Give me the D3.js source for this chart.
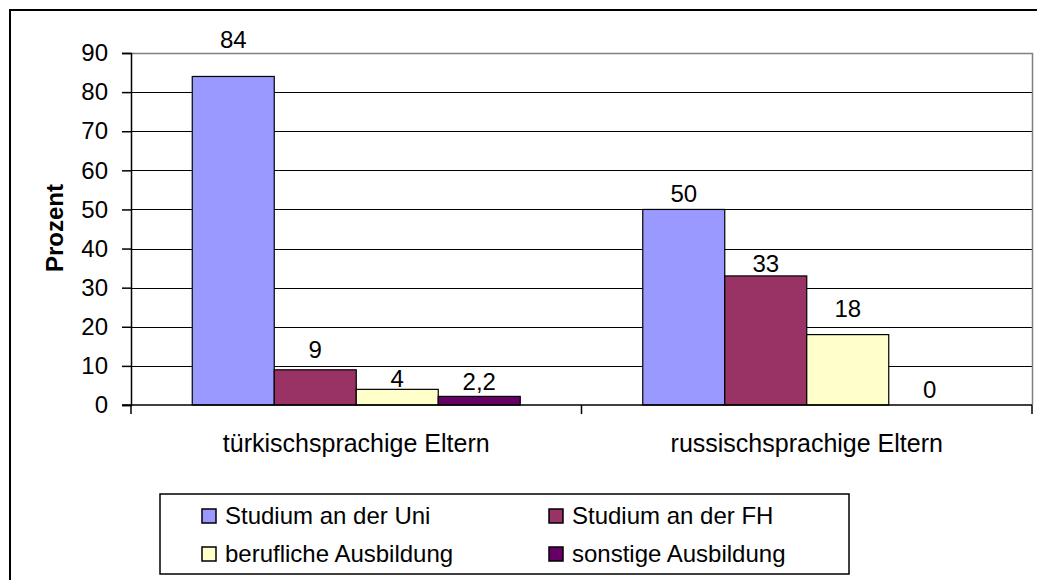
<!DOCTYPE html>
<html>
<head>
<meta charset="utf-8">
<script src="https://cdn.jsdelivr.net/npm/d3@7"></script>
<style>
  body { margin: 0; background: #fff; }
  svg { display: block; font-family: Arial, "Liberation Sans", sans-serif; }
</style>
</head>
<body>
<svg width="1037" height="580"></svg>
<script>
// chart data
var groups = ['türkischsprachige Eltern', 'russischsprachige Eltern'];
var series = ['Studium an der Uni', 'Studium an der FH', 'berufliche Ausbildung', 'sonstige Ausbildung'];
var turkValues = [84, 9, 4, 2.2];
var russValues = [50, 33, 18, 0];
var yTicks = [0, 10, 20, 30, 40, 50, 60, 70, 80, 90];

// looks
var colors = ['#9999FF', '#993366', '#FFFFCC', '#660066'];
var labelLift = [[28, 12, 2, 6], [7, 4, 18, 7]]; // label gap above bars, as in the original

var svg = d3.select('svg');
var plotL = 131, plotR = 1032, plotT = 53, plotB = 405;

// outer frame (runs past the right and bottom edges)
svg.append('rect').attr('x', 10).attr('y', 10).attr('width', 1100).attr('height', 700)
  .attr('fill', 'none').attr('stroke', '#000').attr('stroke-width', 2);

var y = d3.scaleLinear().domain([0, 90]).range([plotB, plotT]);
var x0 = d3.scaleBand().domain(groups).range([plotL, plotR]);
var x1 = d3.scaleBand().domain(series).range([0, x0.bandwidth()]).paddingOuter(0.747);

// gridlines
svg.append('g').selectAll('line').data(yTicks.filter(function (t) { return t > 0 && t < 90; }))
  .join('line')
  .attr('x1', plotL).attr('x2', plotR)
  .attr('y1', function (d) { return Math.round(y(d)) + 0.5; })
  .attr('y2', function (d) { return Math.round(y(d)) + 0.5; })
  .attr('stroke', '#000');

// plot area border top/right (grey)
svg.append('path')
  .attr('d', 'M' + plotL + ',' + (plotT + 0.5) + 'H' + (plotR + 0.5) + 'V' + plotB)
  .attr('fill', 'none').attr('stroke', '#808080').attr('stroke-width', 1.5);

var rows = [turkValues, russValues];
var g = svg.append('g').selectAll('g').data(groups).join('g')
  .attr('transform', function (d) { return 'translate(' + x0(d) + ',0)'; });

g.selectAll('rect').data(function (d, i) {
    return rows[i].map(function (v, j) { return { s: series[j], v: v, c: colors[j] }; });
  })
  .join('rect')
  .attr('x', function (d) { return x1(d.s); })
  .attr('width', x1.bandwidth())
  .attr('y', function (d) { return y(d.v); })
  .attr('height', function (d) { return plotB - y(d.v); })
  .attr('fill', function (d) { return d.c; })
  .attr('stroke', function (d) { return d.v > 0 ? '#000' : 'none'; })
  .attr('stroke-width', 1.2);

g.each(function (d, i) {
  d3.select(this).selectAll('text').data(rows[i]).join('text')
    .attr('x', function (v, j) { return x1(series[j]) + x1.bandwidth() / 2; })
    .attr('y', function (v, j) { return y(v) - labelLift[i][j]; })
    .attr('text-anchor', 'middle')
    .attr('font-size', 24)
    .text(function (v) { return String(v).replace('.', ','); });
});

// y axis
var yAxis = d3.axisLeft(y).tickValues(yTicks).tickSize(9).tickPadding(14);
var ya = svg.append('g').attr('transform', 'translate(' + plotL + ',0)').call(yAxis);
ya.select('.domain').attr('stroke', '#000').attr('stroke-width', 1.5);
ya.selectAll('.tick line').attr('stroke', '#000').attr('stroke-width', 1.5);
ya.selectAll('.tick text').attr('font-size', 24).attr('font-family', 'Arial, "Liberation Sans", sans-serif').attr('fill', '#000');

// x axis
svg.append('line').attr('x1', plotL - 9).attr('x2', plotR).attr('y1', plotB).attr('y2', plotB)
  .attr('stroke', '#000').attr('stroke-width', 1.5);
var xTicks = [plotL, x0(groups[1]), plotR];
svg.append('g').selectAll('line').data(xTicks).join('line')
  .attr('x1', function (d) { return d; }).attr('x2', function (d) { return d; })
  .attr('y1', plotB).attr('y2', plotB + 9)
  .attr('stroke', '#000').attr('stroke-width', 1.5);
svg.append('g').selectAll('text').data(groups).join('text')
  .attr('x', function (d) { return x0(d) + x0.bandwidth() / 2; })
  .attr('y', 452)
  .attr('text-anchor', 'middle')
  .attr('font-size', 25)
  .text(function (d) { return d; });

// y title
svg.append('text')
  .attr('transform', 'translate(63,228) rotate(-90)')
  .attr('text-anchor', 'middle')
  .attr('font-size', 24).attr('font-weight', 'bold')
  .text('Prozent');

// legend
var lg = svg.append('g');
lg.append('rect').attr('x', 160).attr('y', 494).attr('width', 689).attr('height', 80)
  .attr('fill', '#fff').attr('stroke', '#000').attr('stroke-width', 1.5);
var legX = [202, 549], legY = [524, 562];
var items = lg.selectAll('g').data(series).join('g')
  .attr('transform', function (d, i) { return 'translate(' + legX[i % 2] + ',' + legY[Math.floor(i / 2)] + ')'; });
items.append('rect').attr('x', 0).attr('y', -15).attr('width', 14).attr('height', 14)
  .attr('fill', function (d, i) { return colors[i]; })
  .attr('stroke', '#000').attr('stroke-width', 1.5);
items.append('text').attr('x', 23).attr('y', 0).attr('font-size', 24)
  .text(function (d) { return d; });
</script>
</body>
</html>
